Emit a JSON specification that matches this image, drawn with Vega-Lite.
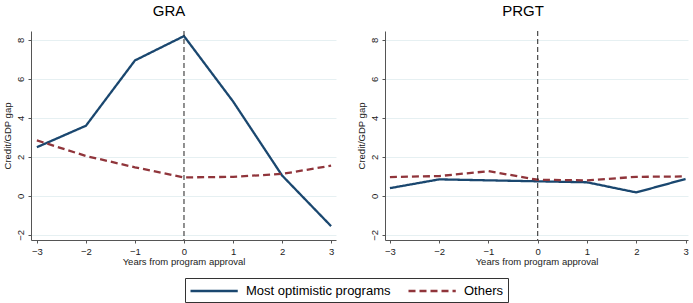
{
  "$schema": "https://vega.github.io/schema/vega-lite/v6.json",
  "padding": {"left": 2, "right": 3, "top": 3, "bottom": 1},
  "background": "white",
  "datasets": {
    "d": [
      {"panel": "GRA", "series": "Most optimistic programs", "year": -3, "gap": 2.5},
      {"panel": "GRA", "series": "Most optimistic programs", "year": -2, "gap": 3.6},
      {"panel": "GRA", "series": "Most optimistic programs", "year": -1, "gap": 6.95},
      {"panel": "GRA", "series": "Most optimistic programs", "year": 0, "gap": 8.2},
      {"panel": "GRA", "series": "Most optimistic programs", "year": 1, "gap": 4.85},
      {"panel": "GRA", "series": "Most optimistic programs", "year": 2, "gap": 1.05},
      {"panel": "GRA", "series": "Most optimistic programs", "year": 3, "gap": -1.55},
      {"panel": "GRA", "series": "Others", "year": -3, "gap": 2.85},
      {"panel": "GRA", "series": "Others", "year": -2, "gap": 2.05},
      {"panel": "GRA", "series": "Others", "year": -1, "gap": 1.47},
      {"panel": "GRA", "series": "Others", "year": 0, "gap": 0.95},
      {"panel": "GRA", "series": "Others", "year": 1, "gap": 0.98},
      {"panel": "GRA", "series": "Others", "year": 2, "gap": 1.13},
      {"panel": "GRA", "series": "Others", "year": 3, "gap": 1.55},
      {"panel": "PRGT", "series": "Most optimistic programs", "year": -3, "gap": 0.4},
      {"panel": "PRGT", "series": "Most optimistic programs", "year": -2, "gap": 0.85},
      {"panel": "PRGT", "series": "Most optimistic programs", "year": -1, "gap": 0.8},
      {"panel": "PRGT", "series": "Most optimistic programs", "year": 0, "gap": 0.75},
      {"panel": "PRGT", "series": "Most optimistic programs", "year": 1, "gap": 0.7},
      {"panel": "PRGT", "series": "Most optimistic programs", "year": 2, "gap": 0.18},
      {"panel": "PRGT", "series": "Most optimistic programs", "year": 3, "gap": 0.87},
      {"panel": "PRGT", "series": "Others", "year": -3, "gap": 0.97},
      {"panel": "PRGT", "series": "Others", "year": -2, "gap": 1.02},
      {"panel": "PRGT", "series": "Others", "year": -1, "gap": 1.27},
      {"panel": "PRGT", "series": "Others", "year": 0, "gap": 0.83},
      {"panel": "PRGT", "series": "Others", "year": 1, "gap": 0.8},
      {"panel": "PRGT", "series": "Others", "year": 2, "gap": 0.98},
      {"panel": "PRGT", "series": "Others", "year": 3, "gap": 1.0}
    ],
    "approval": [{"year": 0}]
  },
  "spacing": 20,
  "hconcat": [
    {
      "title": {"text": "GRA"},
      "width": 305,
      "height": 209,
      "layer": [
        {
          "data": {"name": "d"},
          "transform": [{"filter": "datum.panel === 'GRA'"}],
          "mark": {"type": "line", "strokeWidth": 2.3},
          "encoding": {
            "x": {"field": "year", "type": "quantitative", "scale": {"domain": [-3.12, 3.1], "nice": false, "zero": false}, "axis": {"values": [-3, -2, -1, 0, 1, 2, 3], "title": "Years from program approval", "grid": false}},
            "y": {"field": "gap", "type": "quantitative", "scale": {"domain": [-2.26, 8.46], "nice": false, "zero": false}, "axis": {"values": [-2, 0, 2, 4, 6, 8], "title": "Credit/GDP gap"}},
            "color": {"field": "series", "type": "nominal", "title": null, "scale": {"domain": ["Most optimistic programs", "Others"], "range": ["#1a476f", "#90353b"]}},
            "strokeDash": {"field": "series", "type": "nominal", "title": null, "scale": {"domain": ["Most optimistic programs", "Others"], "range": [[1, 0], [7, 4]]}}
          }
        },
        {
          "data": {"name": "approval"},
          "mark": {"type": "rule", "strokeDash": [5, 3], "strokeWidth": 1, "color": "#222222"},
          "encoding": {"x": {"field": "year", "type": "quantitative"}}
        }
      ]
    },
    {
      "title": {"text": "PRGT"},
      "width": 303,
      "height": 209,
      "layer": [
        {
          "data": {"name": "d"},
          "transform": [{"filter": "datum.panel === 'PRGT'"}],
          "mark": {"type": "line", "strokeWidth": 2.3},
          "encoding": {
            "x": {"field": "year", "type": "quantitative", "scale": {"domain": [-3.1, 3.05], "nice": false, "zero": false}, "axis": {"values": [-3, -2, -1, 0, 1, 2, 3], "title": "Years from program approval", "grid": false}},
            "y": {"field": "gap", "type": "quantitative", "scale": {"domain": [-2.26, 8.46], "nice": false, "zero": false}, "axis": {"values": [-2, 0, 2, 4, 6, 8], "title": "Credit/GDP gap"}},
            "color": {"field": "series", "type": "nominal", "title": null, "scale": {"domain": ["Most optimistic programs", "Others"], "range": ["#1a476f", "#90353b"]}},
            "strokeDash": {"field": "series", "type": "nominal", "title": null, "scale": {"domain": ["Most optimistic programs", "Others"], "range": [[1, 0], [7, 4]]}}
          }
        },
        {
          "data": {"name": "approval"},
          "mark": {"type": "rule", "strokeDash": [5, 3], "strokeWidth": 1, "color": "#222222"},
          "encoding": {"x": {"field": "year", "type": "quantitative"}}
        }
      ]
    }
  ],
  "resolve": {"scale": {"color": "shared", "strokeDash": "shared"}, "legend": {"color": "shared", "strokeDash": "shared"}},
  "config": {
    "font": "Liberation Sans",
    "view": {"stroke": null},
    "title": {"fontSize": 15, "fontWeight": "normal", "color": "#000000", "anchor": "middle", "frame": "bounds", "offset": 12},
    "axis": {
      "labelFont": "Liberation Sans",
      "titleFont": "Liberation Sans",
      "labelFontSize": 9.5,
      "titleFontSize": 9.5,
      "titleFontWeight": "normal",
      "labelColor": "#222222",
      "titleColor": "#222222",
      "domainColor": "#555555",
      "tickColor": "#555555",
      "tickSize": 3,
      "gridColor": "#e6f0f2",
      "gridWidth": 1
    },
    "axisX": {"labelPadding": 3, "titlePadding": 1, "labelFlush": false},
    "axisY": {"labelAngle": 270, "labelPadding": 3, "titlePadding": 3, "labelAlign": "center", "labelBaseline": "bottom"},
    "legend": {
      "orient": "bottom",
      "direction": "horizontal",
      "symbolType": "M-1,0H5.3",
      "symbolSize": 225,
      "symbolStrokeWidth": 2.5,
      "symbolFillColor": "transparent",
      "labelFontSize": 13,
      "labelColor": "#000000",
      "labelFont": "Liberation Sans",
      "labelOffset": 39,
      "columnPadding": 12,
      "strokeColor": "#333333",
      "padding": 4,
      "offset": 12,
      "layout": {"bottom": {"anchor": "middle"}}
    }
  }
}
